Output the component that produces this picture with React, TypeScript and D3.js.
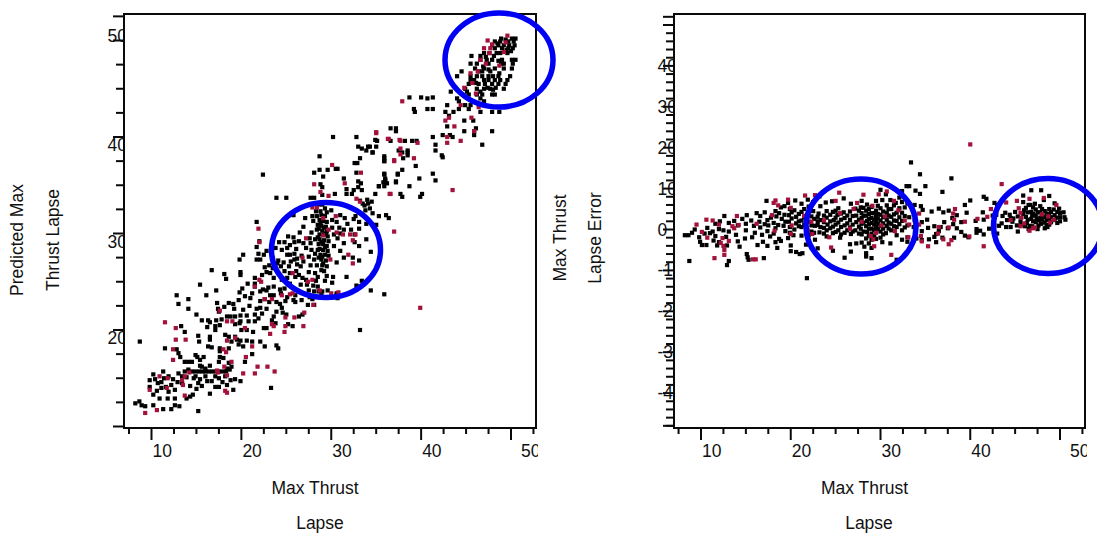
import React from "react";
import * as d3 from "d3";

type P = [number, number];

const xLabels = [10, 20, 30, 40, 50];
const leftYLabels = [50, 40, 30, 20];
const rightYLabels = [40, 30, 20, 10, 0, -10, -20, -30, -40];

const leftBlackTop: P[] = [[48.9,50.2],[50.1,50.2],[50.5,50.2],[48.2,49.9],[48.8,49.9],[49.7,49.9],[50.3,49.9],[47.9,49.5],[48.6,49.5],[49.2,49.5],[49.8,49.5],[50.4,49.5],[48.2,49.2],[49,49.2],[49.7,49.2],[50.2,49.2],[47,48.7],[47.6,48.7],[48.4,48.7],[48.8,48.7],[49.6,48.7],[45.6,48.4],[46.6,48.4],[46.6,48],[47.3,48],[47.9,48],[49,48],[50.1,48],[50.5,48],[45.5,47.6],[46.2,47.6],[47.5,47.6],[48.9,47.6],[49.2,47.6],[50.2,47.6],[46,47.1],[47,47.1],[48.2,47.1],[49.2,47.1],[50.1,47.1],[44.5,46.8],[46.4,46.8],[47.7,46.8],[44,46.3],[45.5,46.3],[46.2,46.3],[46.8,46.3],[47.5,46.3],[48,46.3],[48.6,46.3],[49.9,46.3],[45.5,45.9],[47,45.9],[47.5,45.9],[48.2,45.9],[48.8,45.9],[49.6,45.9],[45.3,45.5],[46.4,45.5],[47.1,45.5],[47.9,45.5],[48.6,45.5],[49.4,45.5],[44.9,45],[46.2,45],[47,45],[47.7,45],[49.2,45],[43.3,44.7],[45.1,44.7],[46.6,44.7],[45.3,44.4],[46.8,44.4],[47.9,44.4],[48.2,44.4],[38.7,44.1],[40,44.1],[40.7,44],[41.3,44.1],[44,44],[46.6,44],[44.2,43.7],[47,43.7],[42.9,43.3],[44.9,43.3],[45.5,43.3],[39.2,42.9],[40.7,42.9],[41.3,42.9],[44.2,42.9],[45.3,42.9],[39.3,42.6],[42.7,42.6],[43.6,42.6],[47.9,42.6],[48.7,42.6],[46.6,42.6],[43.1,42.2],[44.8,41.7],[45.8,41.7],[42.9,41.1],[36.6,40.9],[37.2,40.9],[46.1,40.9],[44.8,40.6],[47.9,40.6],[37.2,40.6],[45.9,40.6],[42.4,40.2],[43.2,40.2],[45.9,40.2],[41.3,40],[43.5,40],[35.1,39.6],[36.6,39.6],[38.2,39.6],[39,39.6],[39.5,39.6],[41.6,39.2],[46.8,39.2],[34.3,39],[35,39],[41.6,38.6],[37.5,38.6],[38.5,38.6],[34.6,38.4],[38.5,38.4],[37.9,38.4],[38.5,38.1],[42.3,38.1],[42.4,37.9],[35.9,37.8],[38,37.8],[35.9,37.5],[39.4,37],[37.9,36.6],[35.9,36.2],[37.4,36.2],[41.3,36.2],[39.8,35.7],[36,35.7],[41.6,35.5],[36,35.5],[35.8,35.3],[37.2,35.3],[35.3,34.9],[38.7,34.9],[35.9,34.9],[37.7,34.1],[40.1,34.1],[34.9,34.1],[37.9,33.8],[39.9,33.8],
[49.4,50.1],[48.5,49.7],[49.5,49],[50,48.9],[48.1,48.4],[47.2,48.3],[48.6,47.9],[46.9,47.3],[47.5,47],[46.8,46.8],[48.7,46.6],[45.9,45.9],[46.1,45.6],[47.4,45.1],[48.3,45.1],[48,44.9],[46.2,44.4]];

const leftBlackMid: P[] = [[30.2,40],[32.8,40],[34.9,39.7],[33,39],[34.1,39],[33.4,38.8],[33.9,38.6],[34.6,38.4],[33.2,37.8],[28.7,38],[35.9,38],[35.9,37.5],[32.9,37.3],[32.6,37.3],[30.5,36.7],[30.7,36.7],[29.6,36.6],[28.7,36.6],[28.1,36.3],[29.1,35.9],[22.4,36.1],[32.8,36.3],[35.9,36.1],[37.4,36.1],[31.4,35.7],[36,35.5],[36.2,35.2],[37.2,35.4],[33,35.4],[28.8,35.1],[29,34.8],[33.3,35.2],[33,34.8],[35.3,34.9],[31.7,34.6],[32.5,34.5],[33.4,34.5],[30.4,34.1],[29,34],[31.7,34.1],[32.3,34.1],[23.9,33.7],[25,33.7],[27.7,33.7],[28.1,33.7],[34,33.5],[34.1,33.1],[33.7,32.9],[34.3,32.6],[33.8,32.4],[34.6,32.1],[35.3,31.8],[36.1,31.9],[36.4,31.6],[33.2,33.4],[33.5,33.1],[34.5,33.3],
[28.6,33],[29,33],[29.3,32.6],[28.3,32.3],[28.8,32.3],[29.5,32.2],[30,32.4],[28.9,31.9],[29.3,31.8],[27.9,31.8],[31,31.9],[31.5,31.6],[32.7,31.8],[33.1,31.2],[32.5,31.5],[25.8,31.9],[27.1,31.6],[28,31.3],[28.7,31.4],[29.1,31.3],[29.5,31.2],[30.1,31.4],[30.6,31.2],[31.8,31],[33.9,31],[35,30.9],[26.9,30.7],[28.5,30.9],[28.9,30.8],[29.4,30.7],[30.1,30.6],[30.9,30.6],[31.4,30.4],[32.2,30.4],[33.1,30.5],[28.4,30.4],[29,30.3],[29.5,30.2],[31,30],[32.6,29.9],[26.5,30.1],[27.8,30.1],[28.7,29.9],[29.2,29.9],[29.6,29.7],[30.3,29.9],[30.7,29.5],[33.9,29.4],[25.2,29.7],[25.8,29.6],[27.6,29.5],[28.2,29.4],[28.7,29.4],[29.2,29.3],[29.7,29.2],[31.4,29],[32.6,29.1],[33.1,28.7],[24.2,29.1],[24.8,29.1],[25.9,29.1],[26.4,29.2],[27.7,29],[28.6,28.9],[29.1,28.9],[29.5,28.7],[30.3,28.7],[34.4,28.1],[23.8,28.5],[24.5,28.3],[25.1,28.5],[26.1,28.4],[27.2,28.5],[28.7,28.4],[29.1,28.3],[29.6,28.2],[31,28.2],[25.1,27.8],[25.9,27.9],[26.7,27.7],[28.2,27.9],[28.8,27.8],[29.3,27.8],[29.7,27.7],[31.4,27.5],[32.4,27.5],[33.1,27.2],[24.1,27.2],[24.7,27],[25.5,27.1],[28.1,27.3],[28.9,27.3],[29.4,27.2],[30.6,27],[24.4,26.6],[25.3,26.6],[26.6,26.6],[27.7,26.7],[29,26.7],[29.5,26.6],[24.8,26.1],[25.4,25.9],[26.1,26.1],[27.5,26],[28.2,25.9],[29.2,26.1],[29.5,25.6],[30.2,25.5],[31.7,25.5],[25.1,25.4],[26,25.5],[26.8,25.4],[27.2,25.2],[28.3,25.1],[29.3,25.1],[30.1,24.9],[32.8,24.6],[33.4,25.1],[26.6,24.7],[27.3,24.7],[28,24.6],[28.5,24.5],[29.6,24.1],[33,24.5],[34.4,24.1],[27.5,24.1],[28.1,24],[28.6,24],[29,24],[30.6,23.8],[28.9,23.6],[30.6,23.6],[30.7,23.3],[35.9,23.7],
[28.4,31.8],[28.8,31.1],[29.2,30.6],[28.6,30.5],[29.4,30],[28.5,29.6],[28.9,29.1],[29.3,28.6],[28.5,28.3],[29,27.6],[28.6,27.5],[29.1,26.9],[28.4,26.7],[28.9,26.2],[28.5,25.5],[27.8,28.3],[27.5,27.6],[26.9,27.1],[26.2,26.8],[25.9,27.3],[26.4,25.7]];

const leftBlackLow: P[] = [[8.2,12.4],[8.65,12.6],[8.9,12.2],[9.3,12.1],[10.2,12.2],[11.3,11.8],[12.2,11.8],[12.6,12.2],[13.1,12.1],[15.2,11.6],[10.9,12.9],[11.8,12.9],[12.6,12.9],[13.9,12.9],[14.6,13.3],[14.3,13.1],[16.5,13.4],[15,13.9],[15.6,14.2],[17.1,14.1],[17.5,14.1],[19.1,13.8],[23.3,14],[9.8,14.1],[11.1,14],[10.2,13.3],[11.9,13.6],[12.6,13.8],[9.8,14.8],[10.4,14.9],[11.1,14.6],[10.2,15.4],[11.3,15.7],[11.9,15.2],[12.4,14.9],[13,15.5],[13.7,15.7],[14.1,15.9],[14.5,15.7],[14.9,15.7],[15.3,15.7],[15.7,15.7],[16,15.7],[16.4,15.7],[16.8,15.7],[17.2,15.7],[17.5,15.7],[17.9,15.7],[18.3,15.7],[13.4,15.2],[14.9,15.2],[15.4,14.9],[16.2,14.7],[16.7,14.7],[17.5,15],[18.2,15.2],[18.8,14.8],[19.3,14.9],[19.9,14.7],[11.5,18.1],[12.8,18],[13,17.6],[13.2,17.2],[13.7,16.7],[14.1,16.7],[14.5,16.7],[14.9,17.4],[15.1,17.2],[15.4,16.9],[15.8,17.2],[15.6,16.2],[16,16],[16.5,16.3],[17.5,16.7],[17.6,17.2],[18,17.1],[17.6,18.1],[17.6,17.8],[18.6,18.1],[18.6,16.6],[18.9,16.2],[18.4,16],[18.7,15.9],[20.4,16.7],[21.2,17.5],[19.7,18.5],[20.2,18.3],[19.9,18.9],[19.3,19.3],[18.9,18.8],[19.5,19],[20.6,18.9],[21.2,18.8],[22.1,18.8],[22.6,18.3],[23.9,18.4],[24.1,18.1],[8.7,18.8],[16.3,18.3],[16.7,18.2],[15.3,18.8],[16.5,19.3],[16.5,19],[15.2,19.4],[13.7,19.8],[13.3,20.4],[16.2,20.3],[17.1,20.4],[17.1,20],[17.6,20.5],[15.6,21],[16.3,21],[16.5,20.8],[17.2,21],[17.8,21.1],[15,21.6],[13,22.7],[14.1,22.2],[12.8,23.6],[14.1,23.2],[16.1,23.6],[17.2,24.1],[15.4,24.7],[16.7,26.2],[18.1,25.8],[18.3,25.3],[19.9,26],[19.9,25.7],[19.8,27.3],[20.2,27.8],[17.3,22.8],[18.6,22.8],[19.1,22.7],[19.7,23.1],[17.4,22.2],[17.5,21.9],[18.4,21.4],[18.8,21.4],[19.3,21.4],[19.9,21.5],[19.9,20.9],[20.8,20.9],[21.5,21.6],[21.5,20.9],[20.2,22.1],[21.7,22.2],[22.1,22.3],[22.8,22.2],[22.3,21.7],[19.8,23.9],[20.1,24.3],[20.4,23.5],[21,23.3],[21.5,24.8],[22.1,24],[22.8,24.1],[23.6,23.6],[23.2,23.6],[23,24.4],[22.4,24.2],[23.6,24.5],[24.3,24.2],[24.8,24.3],[25.4,24.8],[25.8,23.1],[26.4,21.4],[26.8,21.6],[25,21.6],[23.6,21.4],[23.4,21],[23.8,20.7],[25.2,20.6],[25.7,20.4],[22.5,20.2],[20,20],[20.6,20],[21.3,19.8],[18.2,19.5],[18.6,19.3],[19.3,20.6],[19.8,20.7],[22.8,20.2],[21.7,27.3],[22.1,27.3],[21.9,27.9],[22.5,27.8],[22.8,28.2],[22.8,26],[23.6,25.4],[21.5,25.4],[21.5,24.5],[21.7,28.6],[22,29.2],[21.7,31.2],[25.4,28.8],[25.4,27.8],[26.2,27.4],[26.9,29],[22.6,26.5],[23.1,26.7],[23.5,26.4],[24,26.9],[23.2,25.9],[24.5,25.2],[22.3,25.7],[23.9,22.9],[24.3,22.7],[24.5,22.3],[24.9,23],[23.1,22.9],[22.6,23.2],[27.6,23.4],[26.7,23.1],[26,23.6],[26,22.9],[27.4,22.6],[24.6,21.8],[23.9,21.9],[28.1,22.6],[27.9,23.2],[33.2,20],[21.9,21.2],[20.6,21.5],[20.9,22.5],[19.2,22.2],[18.1,22.4],[21.2,23.8],[24.4,23.8],[25.1,23.4],[22.1,23],[20.7,24.8],[15.4,16.3],[14.7,15],[13.9,15.1],[12.9,14.6],[12.2,14.3],[11.6,14.1],[10.6,13.7],[11.4,15],[10.7,14.5],[13.4,14.5],[14.3,14.2],[15.2,14.5],[16,15.2],[17.1,15.2],[17.9,14.6],[18.4,14.3]];

const leftRed: P[] = [[49.6,50.5],[47.4,50],[47.9,49.6],[47,49.2],[47.7,49.2],[49.4,49.8],[49.2,48.8],[47.6,48.7],[46.6,48],[47.2,47.6],[48.7,47.4],[46.3,46.8],[45.5,46.6],[45.7,45.6],[44.8,45.1],[46.1,44.5],[37.9,43.7],[44.4,43.3],[46.4,43.1],[43.1,42],[42.7,41.7],[45.6,42],[43.7,41.1],[45.9,40.6],[42.9,40],[44.4,39.6],[42.9,39.4],[35,40.5],[36.3,39.8],[37.7,39.6],[39.6,39.4],[37.7,38.8],[37.7,38.2],[39.2,37.8],[37,37.6],[43.5,34.5],[36.5,34.1],[35,40.4],[36.4,39.8],[37.6,39.7],[30.1,37.1],[37,37.5],[33.3,36.3],[31.5,35.2],[28.1,35.1],[28.8,34.3],[29.7,33.9],[36.6,34.1],[32.8,33.6],[33.2,33.3],[37,30.2],[27.9,32.7],[28.4,32.7],[29.1,31.6],[30.5,31.8],[29.1,29.8],[29.7,30.4],[30.6,30.1],[31.3,29.9],[32.1,29.9],[32.7,29.9],[32.4,29.3],[27.2,29.5],[26.8,27.5],[29.9,27.3],[31.9,27.8],[32.4,26.9],[25.7,25.9],[27.4,25],[27.9,25.2],[28.7,24.1],[30,23.8],[30.8,23.9],[21.9,30.5],[22,29.1],[22,25.2],[22.2,25],[21.5,24.5],[22.6,23.2],[23.4,23.2],[24.5,23.6],[25.4,23.7],[25.7,23.8],[28,22.6],[27,21.8],[24.9,21.3],[25.9,21.3],[23.4,20.6],[23.6,20.4],[24.9,20.4],[26.9,20.4],[11.5,20.8],[12.7,20.2],[12.7,19],[13.8,19],[12.4,18],[12.4,16.9],[14.2,15.6],[10.9,15.2],[11.8,15],[13.4,14.8],[13.5,14.3],[13.7,15.2],[9.8,13.8],[11.7,14],[13.7,13.2],[18.2,13.7],[18.4,13.5],[18.4,15.3],[17.4,15.6],[17.3,15.8],[18.1,16.2],[18.9,16.7],[20.2,15.5],[21.5,15.5],[21.8,16.2],[22.9,16.2],[23.7,15.7],[20.5,17.2],[21.2,18.3],[19.3,19.2],[18.4,18.9],[18,18],[18.3,17.7],[18.4,20.9],[19,20.9],[17.6,22],[20.4,20.2],[23.2,19.6],[24.8,19.8],[9.3,11.4],[10.6,11.7],[39.9,22.3]];

const rightBlack: P[] = [[8.7,-7.7],[8.2,-1.4],[8.6,-1.4],[9,-.8],[9.3,0],[9.8,-1.9],[9.9,-3],[10.1,-3.8],[10.6,-3.8],[10.4,-1],[10.7,.4],[11,-.9],[11.6,-1.6],[11.8,-3.9],[11.4,-2.7],[12,-3.1],[12,.1],[11.6,1.4],[11.3,-.5],[12.5,-.2],[12.1,2],[12.6,3.3],[13.1,1.6],[13.1,-.5],[13.7,2.1],[13.9,-1.3],[12.8,-1.8],[12.9,-3.9],[13.1,-7.7],[12.9,-8.7],[14.3,-4.2],[14.1,-2.9],[14.1,1],[14.6,2.6],[15,1.4],[15,-.2],[14.9,-2.2],[15.1,3.5],[15.6,2.2],[15.9,.9],[16,-.8],[15.7,-1.9],[15.1,-6],[15.2,-6.8],[15.3,-7.4],[16.2,4],[16.6,3.3],[16.5,1.9],[16.6,.5],[16.8,-1.3],[16.9,-3],[16.3,-3.8],[17,-7],[17.1,4.2],[17.4,2.3],[17.5,1],[17.4,-.4],[17.7,-1.7],[17.4,-4],[17.3,7],[18.3,4.5],[18.4,3.2],[18.1,1.6],[18.3,.3],[18.1,-1],[18.3,-3.1],[18.5,-4.5],[18.7,-2.3],[18.9,5.4],[19,2.6],[19.2,.9],[19.4,-.4],[18.9,-2.8],[19.7,6.5],[19.9,5],[19.8,3.5],[19.8,1.9],[19.9,.6],[19.9,-.8],[19.7,-2.1],[20,-3.9],[20,-5.3],[20.5,7.1],[20.4,4.7],[20.6,3.1],[20.6,1.5],[20.4,0],[20.3,-1.4],[20.6,-5.5],[21,-6],[21.2,6.3],[21.2,4.3],[21.2,2.2],[21.2,.6],[21.2,-1.5],[21.3,-5.8],[21.9,7.3],[22,5.6],[21.8,3.6],[22,1.9],[21.8,.3],[22,-1.4],[22.1,-3.4],[22.5,6.7],[22.5,4.5],[22.6,2.6],[22.7,.9],[22.6,-.8],[22.7,-2.5],[21.8,-11.9],[21.7,-3.7],[23.2,8.1],[23.3,5.7],[23.1,3.9],[23.4,2.3],[23.3,.6],[23.2,-.7],[23,-4.6],[23.9,6.6],[24,4.5],[24,2.9],[24.1,1.2],[24,-.2],[24,-1.7],[24.6,6.9],[24.7,4.3],[24.8,2.3],[24.7,.7],[24.7,-.9],[24.7,-5.2],[25.3,5.2],[25.2,3.6],[25.3,1.7],[25.3,-.2],[25.5,-2],[25.9,7.6],[25.9,4.2],[26,2.8],[26,1],[26,-.8],[26,-6.9],[26.7,6.3],[26.6,4.4],[26.6,2.3],[26.6,.5],[26.7,-1.1],[26.6,-3.6],[26.7,-5.4],[27.2,5.1],[27.3,3.4],[27.3,1.8],[27.2,-.2],[27.3,-3.4],[27.9,7],[27.8,5.4],[27.9,4],[27.9,2.8],[27.9,1.4],[27.8,.2],[27.9,-1.2],[27.9,-3.2],[28.2,-4.2],[28.5,6.1],[28.4,4.6],[28.4,3.4],[28.5,2.1],[28.4,.8],[28.5,-.6],[28.4,-2.2],[28.4,-5.8],[28.4,-6.6],[29,5.5],[29,4],[29,2.8],[29,1.6],[29,.2],[29,-1],[29,-2.5],[29,-4.5],[29,-7],[29.5,7],[29.5,4.6],[29.5,3.2],[29.5,2],[29.5,.8],[29.5,-.6],[29.5,-2.3],[30,9.7],[30.2,7.2],[30,5.2],[30,3.6],[30,2.2],[30,.8],[30,-.5],[30,-2],[30.6,8.6],[30.7,5.9],[30.7,4.1],[30.7,2.4],[30.7,.9],[30.6,-.9],[30.2,-3.1],[31.1,7.2],[31.2,5],[31.2,3.1],[31.2,1.4],[31.2,-.2],[31.1,-3.4],[31.7,6.5],[31.8,4.1],[31.8,2.1],[31.8,.6],[31.8,-1.4],[31.8,-7.4],[32.4,9.4],[32.4,6.7],[32.4,4.1],[32.4,2.1],[32.4,-.2],[32.4,-2.5],[32.9,10.6],[33.2,10.6],[33,6.4],[33.2,3],[33,1],[33,-1.9],[33,-3],[33.4,16.4],[33.9,9.5],[33.8,6],[33.8,2.3],[33.7,.6],[34,-2.2],[34.4,13.5],[34.4,8.7],[34.5,5.7],[34.7,4.8],[34.6,1.8],[34.6,-.4],[34.6,-2.6],[35,10.6],[35.2,2.4],[35.3,.4],[35.4,-2.4],[35.7,4.4],[36,.8],[36.2,-1.1],[36,-1.8],[36.2,-3.1],[36.5,5.1],[36.7,.6],[36.9,9.2],[36.5,-.4],[36.9,-2],[37,4.2],[37.1,1.8],[37.5,.3],[37.9,12.5],[37.6,4.6],[38,2.8],[38.1,1.3],[38.2,-2],[38.5,3.5],[38.5,.3],[39,-.6],[39.4,-1.5],[39,1.8],[39.8,-1.9],[40.7,-.8],[40.7,.1],[39.4,6],[39.6,4.1],[40,7.1],[40.6,2.1],[41.1,-.3],[41.5,-1.2],[41.5,8],[41.8,7.5],[41.4,4.2],[41.5,2.4],[42.1,.2],[42.7,6.5],[42.9,3.6],[43,6],[43.2,.9],[43,-1],[43.6,3.3],[44,.6],[44.5,.6],[44.5,2.8],[45,4.3],[45.3,-.5],[45.2,1],[45.9,8.3],[45.9,6.7],[46,4.7],[46.2,3.1],[46.3,1.6],[46.5,.1],[46.8,9.6],[46.7,6],[46.8,4.3],[46.8,2.6],[46.9,.8],[47.2,6.3],[47.3,4.9],[47.3,3.4],[47.3,1.8],[47.5,.1],[47.9,9.6],[47.8,5.7],[47.8,4.2],[47.8,2.9],[47.9,1.4],[48.2,7.2],[48.3,4.5],[48.3,3.1],[48.3,1.7],[48.3,.3],[48.8,8.2],[48.8,5],[48.8,3.7],[48.8,2.4],[48.8,1.2],[49.3,4.9],[49.4,3.5],[49.4,2.3],[49.9,5.1],[50,4],[50,3],[50,2],[50.4,4.2],[50.5,3],[50.6,2.4],[49.4,6.4],[46.2,5.3],[43.9,4.1],[44.4,3.6],[46.9,3.4],[47.6,2.2],[48.6,.6]];

const rightBlackDense: P[] = [[17.1,1.3],[17.8,2.9],[18.6,1.1],[18.7,4],[19.3,3.6],[19.4,1.9],[19.3,5.7],[20.1,2.7],[20.1,4.2],[20.9,3.8],[20.9,.8],[20.9,2],[21.5,1.2],[21.5,3],[21.5,5],[22.3,3.2],[22.3,1],[22.3,-.5],[23,2],[23,3.1],[23,1.1],[23.7,3.4],[23.7,1.8],[23.7,.4],[23.7,-1],[24.4,3.6],[24.4,2],[24.4,.3],[25,1.2],[25,2.9],[25,4.6],[25,-.6],[25.6,.6],[25.6,2.4],[25.6,3.9],[25.6,-1.2],[26.3,3.4],[26.3,1.5],[26.3,-.2],[26.9,3.3],[26.9,1.2],[26.9,-.5],[27.6,2.4],[27.6,.7],[27.6,4.6],[27.6,-1],[28.1,3.3],[28.1,1.7],[28.1,-.5],[28.1,5.3],[28.7,3.8],[28.7,2.6],[28.7,1.3],[28.7,.2],[28.7,-1.6],[28.7,-3.4],[28.7,5],[29.3,4],[29.3,2.4],[29.3,1.2],[29.3,-.1],[29.3,-1.6],[29.7,3.8],[29.7,2.7],[29.7,1.4],[29.7,.1],[29.7,5.8],[30.3,4.4],[30.3,3],[30.3,1.5],[30.3,.2],[30.3,-1.2],[30.9,3.4],[30.9,1.7],[30.9,.2],[30.9,5],[31.5,3.7],[31.5,2.2],[31.5,.8],[31.5,5.9],[32.1,3],[32.1,1.3],[32.1,5.2],[32.1,7.8],[32.7,3.3],[32.7,.5],[32.7,5.4],[44.8,2.7],[45.3,3.2],[45.6,2],[45.9,3.8],[45.7,1.2],[46.1,.8],[46.4,2.4],[46.4,4.2],[46.5,6],[46.6,.9],[47,2],[47,3.8],[47,5.4],[47.4,2.6],[47.5,4.2],[47.6,1],[48,2.4],[48,3.4],[48,5],[48.5,2.4],[48.5,3.9],[48.5,1],[49,3],[49,4.3],[49,1.8],[49.6,2.9],[49.7,4.3],[49.7,1.6],[44.7,1.9],[43.5,1.5],[42.5,3.4],[44.1,2.3]];

const rightRed: P[] = [[9.5,1.2],[10.6,2.4],[11.3,2.2],[10.1,-.6],[10.7,-2],[12,1.2],[12.4,-2.1],[12.2,-3.3],[12.5,-4],[12.6,-5],[12.6,-6.2],[11.5,-7],[13.1,-2.8],[14,3.3],[13.5,.8],[13.7,.3],[14.2,1.1],[15.8,-7.3],[16.1,-7.3],[16.2,1.4],[18.1,6.5],[18.3,7.1],[18.6,5.9],[17.9,3.5],[18.2,-.3],[19.7,7.3],[20,5.3],[20.1,1],[20,-1.1],[21.6,8.3],[21.5,3.3],[21.9,-.2],[22.4,-1.1],[22.7,8.4],[22.3,1.9],[23.7,2.2],[24.3,-1.9],[24.5,-4.4],[25.5,4],[25,7],[25.4,9],[27,5],[26.6,.2],[27.4,6.5],[28.1,8.5],[27.9,1.9],[29.1,5.8],[28.9,-1.6],[29.2,-2.4],[29.3,-4.1],[29.5,-.8],[29.8,8.6],[30.7,9.3],[30.1,1],[30.5,3.2],[31.5,7],[31.2,-6.2],[31.6,-.4],[32,4.7],[32.7,2.2],[33.2,1.2],[33.6,4.9],[33.1,-1.9],[34.3,3.9],[34.3,1.2],[34.5,-1.6],[36.5,.6],[34.6,-2.9],[35.3,-4.1],[36.4,-1],[37,-2.4],[37.6,.5],[38.1,3.9],[38.2,2.4],[39.4,1.9],[37.6,-3.6],[37.9,-2.6],[40,20.8],[38.3,5],[39.9,-1.7],[40.8,2.6],[41.9,3.1],[41.5,-4.1],[43.5,11.1],[42.3,5],[42.7,1],[44,6.6],[44.5,2.3],[45.4,5.2],[45.6,4.1],[45.7,2.9],[45.6,.8],[46,1.5],[46.6,-.3],[47,.3],[47.2,.5],[48,3.7],[48.7,3.2],[48.2,7.7],[48.9,1.7],[49.3,2.4],[49.6,6],[46.6,7.5],[45.2,7]];

const markers = (data: P[], x: d3.ScaleLinear<number, number>, y: d3.ScaleLinear<number, number>, color: string) =>
  data.map(([a, b], i) => (
    <rect key={i} x={x(a) - 2.1} y={y(b) - 2.1} width={4.2} height={4.2} fill={color} />
  ));

const STROKE = "#0a0a0a";
const FONT = "'Liberation Sans', Arial, sans-serif";

function Panel(props: {
  id: string;
  left: number; right: number;
  x: d3.ScaleLinear<number, number>;
  y: d3.ScaleLinear<number, number>;
  yMinor: number[]; yMajor: number[];
  yLabels: number[]; yLabelX: number; yLabelY: (v: number) => number;
  black: P[]; red: P[];
}) {
  const { id, left, right, x, y, yMinor, yMajor, yLabels, yLabelX, yLabelY, black, red } = props;
  const top = 14, bottom = 428;
  const xMinor = d3.range(7.5, 53, 2.5);
  return (
    <g>
      <defs>
        <clipPath id={id}><rect x={0} y={0} width={right + 2} height={533} /></clipPath>
        <clipPath id={id + "y"}><rect x={0} y={0} width={left} height={533} /></clipPath>
      </defs>
      <g stroke={STROKE} strokeWidth={2}>
        {xMinor.map((v) => (
          <line key={v} x1={x(v)} x2={x(v)} y1={bottom} y2={bottom + (v % 10 === 0 ? 12 : 6)} />
        ))}
        {yMinor.map((v) => (
          <line key={v} y1={y(v)} y2={y(v)} x1={left} x2={left - 8} />
        ))}
        {yMajor.map((v) => (
          <line key={v} y1={y(v)} y2={y(v)} x1={left} x2={left - 11} />
        ))}
      </g>
      {markers(black, x, y, "#000000")}
      {markers(red, x, y, "#a3123a")}
      <rect x={left} y={top} width={right - left} height={bottom - top} fill="none" stroke={STROKE} strokeWidth={2} />
      <g fontFamily={FONT} fontSize={17.5} fill="#111">
        <g clipPath={`url(#${id})`}>
          {xLabels.map((v) => (
            <text key={v} x={x(v) + (v === 50 ? 10 : 1)} y={457}>{v}</text>
          ))}
        </g>
        <g clipPath={`url(#${id}y)`}>
          {yLabels.map((v) => (
            <text key={v} x={yLabelX} y={yLabelY(v)}>{v}</text>
          ))}
        </g>
      </g>
    </g>
  );
}

export default function App() {
  const xL = d3.scaleLinear().domain([10, 50]).range([151.5, 511]);
  const yL = d3.scaleLinear().domain([10, 50]).range([426.5, 40.5]);
  const xR = d3.scaleLinear().domain([10, 50]).range([701, 1060]);
  const yR = d3.scaleLinear().domain([0, 50]).range([229.5, 25]);
  const text = { fontFamily: FONT, fontSize: 17.5, fill: "#111", textAnchor: "middle" as const };
  const vert = (x: number, y: number, s: string) => (
    <text {...text} transform={`translate(${x},${y}) rotate(-90)`}>{s}</text>
  );
  const ellipse = (cx: number, cy: number, rx: number, ry: number) => (
    <ellipse cx={cx} cy={cy} rx={rx} ry={ry} fill="none" stroke="#0000f5" strokeWidth={5.5} />
  );
  return (
    <svg width={1097} height={533} style={{ position: "fixed", left: 0, top: 0, background: "#fff" }}>
      <Panel id="cl" left={124} right={536} x={xL} y={yL}
        yMinor={d3.range(12.5, 53, 2.5).filter((v) => v % 10 !== 0 && v !== 52.5)}
        yMajor={[10, 20, 30, 40, 50, 52.5]}
        yLabels={leftYLabels} yLabelX={107.5}
        yLabelY={(v) => (v === 50 ? 42 : yL(v) + 14)}
        black={[...leftBlackTop, ...leftBlackMid, ...leftBlackLow]} red={leftRed} />
      <Panel id="cr" left={674} right={1085} x={xR} y={yR}
        yMinor={d3.range(-48, 51, 2).filter((v) => v % 10 !== 0)}
        yMajor={[-48, -40, -30, -20, -10, 0, 10, 20, 30, 40, 50, 52]}
        yLabels={rightYLabels} yLabelX={657.5}
        yLabelY={(v) => yR(v) + 6}
        black={[...rightBlack, ...rightBlackDense]} red={rightRed} />
      {ellipse(499, 60, 54, 47)}
      {ellipse(326, 250, 54.5, 47.5)}
      {ellipse(861, 226.5, 55, 47.5)}
      {ellipse(1048, 226, 54.5, 47.5)}
      <text {...text} x={315} y={494}>Max Thrust</text>
      <text {...text} x={320} y={529}>Lapse</text>
      <text {...text} x={864.5} y={494}>Max Thrust</text>
      <text {...text} x={869} y={529}>Lapse</text>
      {vert(23, 240, "Predicted Max")}
      {vert(59, 240, "Thrust Lapse")}
      {vert(566, 238, "Max Thrust")}
      {vert(601, 238, "Lapse Error")}
    </svg>
  );
}
